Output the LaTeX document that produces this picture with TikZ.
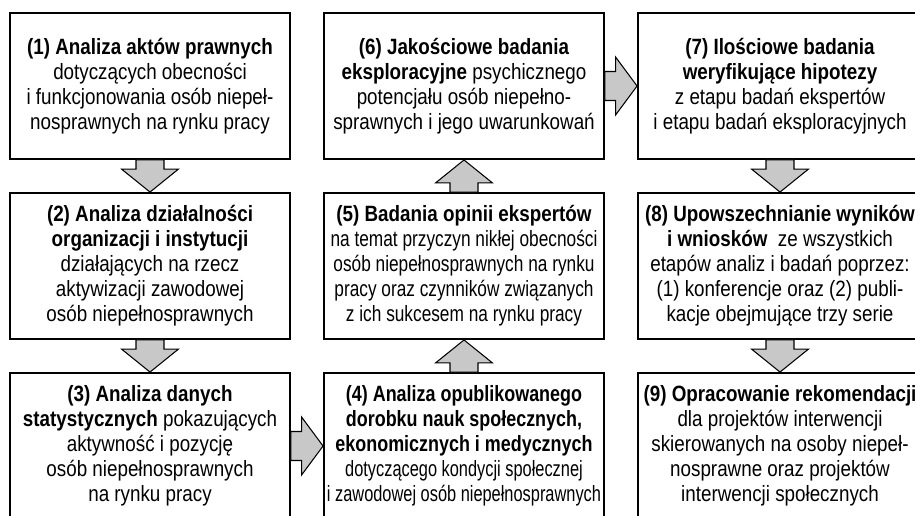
\documentclass[tikz,border=0pt]{standalone}
\usepackage{fontspec}
\setmainfont{Liberation Sans}[FakeStretch=0.85]
\newfontfamily\cnd{Liberation Sans}[FakeStretch=0.78]
\newfontfamily\cndb{Liberation Sans}[FakeStretch=0.81]
\newfontfamily\cndd{Liberation Sans}[FakeStretch=0.74]
\usepackage{tikz}
\usetikzlibrary{calc}
\definecolor{arrgray}{HTML}{C8C8C8}

\begin{document}
\begin{tikzpicture}[x=0.02cm, y=-0.02cm,
  box/.style={draw, line width=1.1pt, fill=white, align=center, inner sep=0pt,
              minimum width=5.6cm, minimum height=2.92cm,
              font=\fontsize{12.6}{14.2}\selectfont},
  wbox/.style={box, minimum width=5.68cm},
  barr/.style={draw, line width=0.6pt, fill=arrgray, line join=miter}]
  \useasboundingbox (0,0) rectangle (915,515);
  \clip (0,0) rectangle (915,515);
  % columns at x = 150 / 464 / 780, rows at y = 86 / 266 / 446 (px)
  \node[box]  (anl1) at (150,86)  {\textbf{(1) Analiza aktów prawnych}\\ dotyczących obecności\\ i funkcjonowania osób niepeł-\\ nosprawnych na rynku pracy};
  \node[box]  (anl2) at (150,266) {\textbf{(2) Analiza działalności}\\ \textbf{organizacji i instytucji}\\ działających na rzecz\\ aktywizacji zawodowej\\ osób niepełnosprawnych};
  \node[box]  (anl3) at (150,446) {\textbf{(3) Analiza danych}\\ \textbf{statystycznych} pokazujących\\ aktywność i pozycję\\ osób niepełnosprawnych\\ na rynku pracy};
  \node[box]  (anl4) at (464,446) {{\cndb\bfseries (4) Analiza opublikowanego}\\ {\cndb\bfseries dorobku nauk społecznych,}\\ {\cndb\bfseries ekonomicznych i medycznych}\\ {\cndd dotyczącego kondycji społecznej}\\ {\cndd i zawodowej osób niepełnosprawnych}};
  \node[box]  (bad5) at (464,266) {\textbf{(5) Badania opinii ekspertów}\\ {\cnd na temat przyczyn nikłej obecności}\\ {\cnd osób niepełnosprawnych na rynku}\\ {\cnd pracy oraz czynników związanych}\\ {\cnd z ich sukcesem na rynku pracy}};
  \node[box]  (bad6) at (464,86)  {\textbf{(6) Jakościowe badania}\\ \textbf{eksploracyjne} psychicznego\\ potencjału osób niepełno-\\ sprawnych i jego uwarunkowań};
  \node[wbox] (bad7) at (780,86)  {\textbf{(7) Ilościowe badania}\\ \textbf{weryfikujące hipotezy}\\ z etapu badań ekspertów\\ i etapu badań eksploracyjnych};
  \node[wbox] (upw8) at (780,266) {\textbf{(8) Upowszechnianie wyników}\\ \textbf{i wniosków}\ \ ze wszystkich\\ etapów analiz i badań poprzez:\\ (1) konferencje oraz (2) publi-\\ kacje obejmujące trzy serie};
  \node[wbox] (rek9) at (780,446) {\textbf{(9) Opracowanie rekomendacji}\\ dla projektów interwencji\\ skierowanych na osoby niepeł-\\ nosprawne oraz projektów\\ interwencji społecznych};
  % block arrows: shaft 2.8mm, head 5.7mm wide, 4.6mm long
  \foreach \a/\b in {anl1/anl2, anl2/anl3, bad7/upw8, upw8/rek9}
    \path[barr] let \p1=(\a.south), \p2=(\b.north) in
      (\x1-2.8mm,\y1) -- (\x1-2.8mm,\y2+4.6mm) -- (\x1-5.7mm,\y2+4.6mm) -- (\x1,\y2)
      -- (\x1+5.7mm,\y2+4.6mm) -- (\x1+2.8mm,\y2+4.6mm) -- (\x1+2.8mm,\y1) -- cycle;
  \foreach \a/\b in {anl4/bad5, bad5/bad6}
    \path[barr] let \p1=(\a.north), \p2=(\b.south) in
      (\x1-2.8mm,\y1) -- (\x1-2.8mm,\y2-4.6mm) -- (\x1-5.7mm,\y2-4.6mm) -- (\x1,\y2)
      -- (\x1+5.7mm,\y2-4.6mm) -- (\x1+2.8mm,\y2-4.6mm) -- (\x1+2.8mm,\y1) -- cycle;
  \foreach \a/\b in {anl3/anl4, bad6/bad7}
    \path[barr] let \p1=(\a.east), \p2=(\b.west) in
      (\x1,\y1-2.9mm) -- (\x2-4.3mm,\y1-2.9mm) -- (\x2-4.3mm,\y1-5.8mm) -- (\x2,\y1)
      -- (\x2-4.3mm,\y1+5.8mm) -- (\x2-4.3mm,\y1+2.9mm) -- (\x1,\y1+2.9mm) -- cycle;
\end{tikzpicture}
\end{document}
